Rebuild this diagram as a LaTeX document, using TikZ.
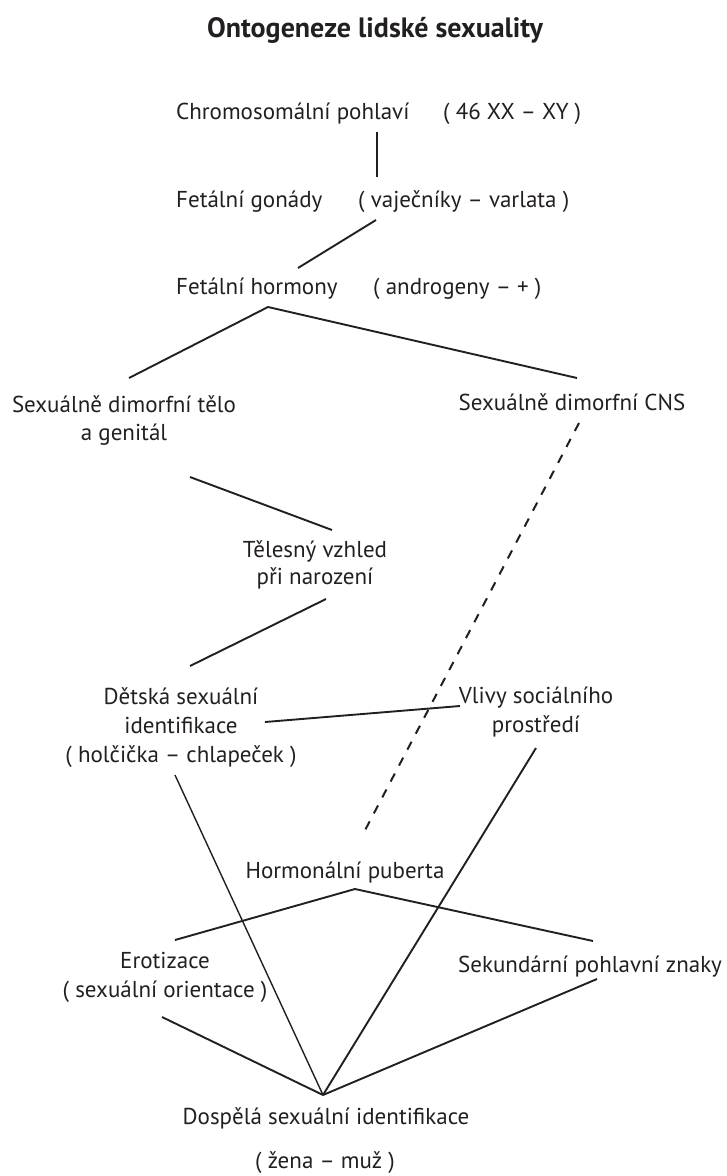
\documentclass[tikz,border=0pt]{standalone}
\usepackage{fontspec}
\setmainfont{PT Sans}
\definecolor{ink}{RGB}{35,31,32}
\begin{document}
\begin{tikzpicture}[x=1pt,y=-1pt,
  lbl/.style={inner sep=0pt, anchor=base, text=ink, font=\fontsize{23}{28}\selectfont},
  lblw/.style={lbl, anchor=base west},
  ttl/.style={inner sep=0pt, anchor=base, text=ink, font=\fontsize{28}{32}\selectfont\bfseries},
  conn/.style={draw=ink, line width=1.9pt},
  thinconn/.style={draw=ink, line width=1.4pt},
  dashconn/.style={draw=ink, line width=2pt, dash pattern=on 9pt off 9pt}]
\useasboundingbox (0,0) rectangle (726,1176);
% texts
\node[ttl] (title) at (375,37) {Ontogeneze lidské sexuality};
\node[lblw] (chrom) at (176,119) {Chromosomální pohlaví};
\node[lblw] (chromb) at (443,119) {( 46 XX – XY )};
\node[lblw] (gon) at (176,207) {Fetální gonády};
\node[lblw] (gonb) at (358,207) {( vaječníky – varlata )};
\node[lblw] (horm) at (176,294) {Fetální hormony};
\node[lblw] (hormb) at (373,294) {( androgeny – + )};
\node[lbl] (telo1) at (124,412) {Sexuálně dimorfní tělo};
\node[lbl] (telo2) at (124,440) {a genitál};
\node[lbl] (cns) at (572,410) {Sexuálně dimorfní CNS};
\node[lbl] (vzh1) at (315,557) {Tělesný vzhled};
\node[lbl] (vzh2) at (315,584) {při narození};
\node[lbl] (det1) at (181,704) {Dětská sexuální};
\node[lbl] (det2) at (181,733) {identifikace};
\node[lbl] (det3) at (181,762) {( holčička – chlapeček )};
\node[lbl] (vliv1) at (536,703) {Vlivy sociálního};
\node[lbl] (vliv2) at (536,732) {prostředí};
\node[lbl] (pub) at (345,878) {Hormonální puberta};
\node[lbl] (ero1) at (165,968) {Erotizace};
\node[lbl] (ero2) at (165,997) {( sexuální orientace )};
\node[lbl] (sek) at (590,972) {Sekundární pohlavní znaky};
\node[lbl] (dosp1) at (326,1124) {Dospělá sexuální identifikace};
\node[lbl] (dosp2) at (325,1168) {( žena – muž )};
% connector end points
\coordinate (c1) at (377,132); \coordinate (c2) at (377,177);
\coordinate (g1) at (376,220); \coordinate (g2) at (298,268);
\coordinate (h0) at (268,307); \coordinate (hl) at (129,378); \coordinate (hr) at (577,378);
\coordinate (t1) at (190,477); \coordinate (t2) at (332,530);
\coordinate (v1) at (326,599); \coordinate (v2) at (190,666);
\coordinate (n1) at (579,423); \coordinate (n2) at (362,836);
\coordinate (d1) at (265,722); \coordinate (d2) at (460,706);
\coordinate (d3) at (175,775);
\coordinate (s1) at (536,748);
\coordinate (p0) at (355,889); \coordinate (pl) at (175,940); \coordinate (pr) at (593,941);
\coordinate (e1) at (162,1017);
\coordinate (k1) at (597,979);
\coordinate (a0) at (323,1095);
% connectors
\draw[conn] (c1) -- (c2);
\draw[conn] (g1) -- (g2);
\draw[conn] (hl) -- (h0) -- (hr);
\draw[conn] (t1) -- (t2);
\draw[conn] (v1) -- (v2);
\draw[dashconn] (n1) -- (n2);
\draw[conn] (d1) -- (d2);
\draw[thinconn] (d3) -- (a0);
\draw[conn] (s1) -- (a0);
\draw[conn] (pl) -- (p0) -- (pr);
\draw[conn] (e1) -- (a0);
\draw[conn] (k1) -- (a0);
\end{tikzpicture}
\end{document}
